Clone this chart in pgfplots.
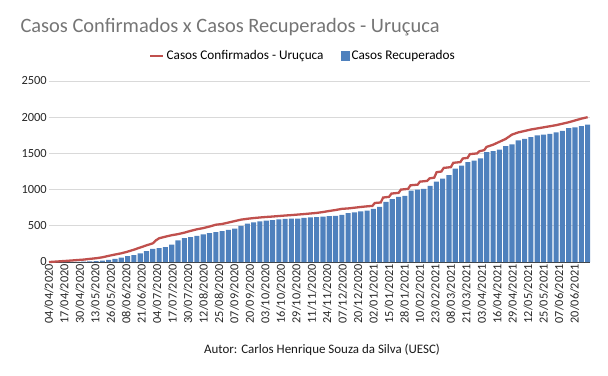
\documentclass[border=0pt]{standalone}
\usepackage{pgfplots}
\usepackage{pgfplotstable}
\pgfplotsset{compat=1.18}
\usepackage{fontspec}
\setmainfont{Carlito}
\definecolor{barblue}{RGB}{79,129,189}
\definecolor{linered}{RGB}{192,80,77}
\definecolor{titlegray}{RGB}{117,117,117}
\definecolor{gridgray}{RGB}{217,217,217}

\pgfplotstableread{
x y
2.5 0
7.8 0
13.1 1
18.4 2
23.7 3
29.0 5
34.3 8
39.6 13
44.9 20
50.2 30
55.5 42
60.8 60
66.1 82
71.4 95
76.7 120
82.0 150
87.3 180
92.6 192
97.9 205
103.2 240
108.5 300
113.8 330
119.1 345
124.4 360
129.7 380
135.0 400
140.3 412
145.6 428
150.9 445
156.2 460
161.5 500
166.8 530
172.1 548
177.4 560
182.7 572
188.0 580
193.3 588
198.6 594
203.9 598
209.2 600
214.5 608
219.8 615
225.1 620
230.4 626
235.7 632
241.0 637
246.3 650
251.6 674
256.9 685
262.2 698
267.5 711
272.8 735
278.1 760
283.4 830
288.7 870
294.0 900
299.3 915
304.6 985
309.9 1000
315.2 1011
320.5 1050
325.8 1110
331.1 1150
336.4 1200
341.7 1290
347.0 1330
352.3 1380
357.6 1400
362.9 1430
368.2 1519
373.5 1530
378.8 1551
384.1 1600
389.4 1625
394.7 1680
400.0 1700
405.3 1725
410.6 1750
415.9 1760
421.2 1768
426.5 1790
431.8 1810
437.1 1850
442.4 1860
447.7 1875
453.0 1897
}\recup

\pgfplotstableread{
x y
0 0
2.5 2
7.8 8
13.1 14
18.4 20
23.7 27
29.0 33
34.3 43
39.6 52
44.9 65
50.2 85
55.5 103
60.8 120
66.1 143
71.4 170
76.7 200
82.0 230
87.3 258
90.0 300
92.6 328
97.9 350
103.2 370
108.5 385
113.8 405
119.1 430
124.4 452
129.7 468
135.0 490
140.3 515
145.6 525
150.9 545
156.2 565
161.5 585
166.8 597
172.1 607
177.4 615
182.7 622
188.0 628
193.3 635
198.6 642
203.9 648
209.2 655
214.5 662
219.8 670
225.1 678
230.4 690
235.7 705
241.0 718
246.3 734
251.6 740
256.9 750
262.2 760
267.0 768
272.0 775
274.0 815
279.0 822
281.0 890
286.0 900
288.0 945
294.0 955
296.0 1000
302.0 1010
304.0 1060
310.0 1068
312.0 1110
318.0 1120
320.0 1155
324.0 1165
326.0 1240
330.0 1250
332.0 1300
338.0 1310
340.0 1370
346.0 1380
348.0 1430
352.0 1438
354.0 1490
360.0 1500
362.0 1530
366.0 1545
368.0 1590
373.5 1620
378.8 1660
384.1 1700
389.4 1760
394.7 1790
400.0 1810
405.3 1830
410.6 1845
415.9 1860
421.2 1875
426.5 1890
431.8 1910
437.1 1930
442.4 1955
447.7 1980
453.0 2000
}\confirm

\begin{document}
\begin{tikzpicture}
\path[use as bounding box] (-49bp,-114bp) rectangle (559bp,262bp);
\begin{axis}[
  at={(0,0)}, anchor=south west,
  scale only axis, width=541bp, height=181bp,
  xmin=0, xmax=455, ymin=0, ymax=2500,
  ytick={0,500,...,2500},
  xtick={0,13,...,442},
  xticklabels={04/04/2020,17/04/2020,30/04/2020,13/05/2020,26/05/2020,08/06/2020,21/06/2020,04/07/2020,17/07/2020,30/07/2020,12/08/2020,25/08/2020,07/09/2020,20/09/2020,03/10/2020,16/10/2020,29/10/2020,11/11/2020,24/11/2020,07/12/2020,20/12/2020,02/01/2021,15/01/2021,28/01/2021,10/02/2021,23/02/2021,08/03/2021,21/03/2021,03/04/2021,16/04/2021,29/04/2021,12/05/2021,25/05/2021,07/06/2021,20/06/2021},
  xticklabel style={rotate=90, anchor=east, font=\fontsize{12.3}{13}\selectfont, text=black!85, inner sep=2bp},
  yticklabel style={font=\fontsize{12.5}{13}\selectfont, text=black!85, inner sep=2bp},
  /pgf/number format/assume math mode=true,
  /pgf/number format/1000 sep={},
  ymajorgrids, grid style={gridgray, line width=0.8pt},
  axis x line*=bottom, axis y line*=left,
  y axis line style={draw=none},
  x axis line style={-, draw=black!75, line width=0.8pt},
  major tick length=0pt,
  tick style={draw=none},
  clip=false,
  legend style={at={(0.4695,1.138)}, anchor=center, draw=none, fill=none,
    font=\fontsize{13.3}{15}\selectfont, legend columns=2,
    /tikz/every even column/.append style={column sep=15bp}},
  legend cell align=left,
]
\addlegendimage{legend image code/.code={\draw[linered, line width=2.5pt] (0bp,0bp) -- (13bp,0bp);}}
\addlegendentry{Casos Confirmados - Uruçuca}
\addplot[ybar, bar width=4.3, bar shift=0pt, fill=barblue, draw=none,
  legend image code/.code={\fill[barblue] (0bp,-5bp) rectangle (9bp,5bp);}]
  table[x=x, y=y] {\recup};
\addlegendentry{Casos Recuperados}
\addplot[linered, line width=2.3pt, forget plot] table[x=x, y=y] {\confirm};
\end{axis}
\node[anchor=base west, text=titlegray, font=\fontsize{20.5}{24}\selectfont] at (-32bp,229bp) {Casos Confirmados x Casos Recuperados - Uruçuca};
\node[anchor=center, font=\fontsize{13}{15}\selectfont, text=black!90] at (273bp,-88bp) {Autor: Carlos Henrique Souza da Silva (UESC)};
\end{tikzpicture}
\end{document}
